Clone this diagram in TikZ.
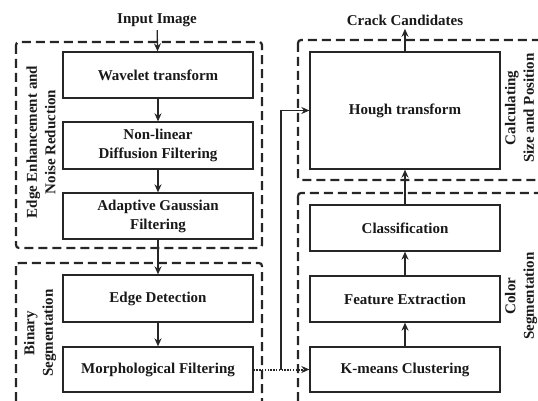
\documentclass[tikz,border=0pt]{standalone}
\usepackage{fontspec}
\setmainfont{Liberation Serif}
\usetikzlibrary{arrows.meta}
\begin{document}
\begin{tikzpicture}[x=1pt,y=-1pt,
  every node/.style={font=\fontsize{15}{19}\selectfont\bfseries, text=black!90},
  procbox/.style={draw=black!85, line width=1.3pt, fill=white, minimum width=190pt, align=center, inner sep=0pt},
  groupbox/.style={draw=black!85, line width=2.2pt, dash pattern=on 9pt off 5pt, rounded corners=3pt},
  flow/.style={draw=black!85, line width=1.3pt, -{Stealth[length=8pt,width=7pt]}},
  dotflow/.style={draw=black!85, line width=2pt, dash pattern=on 1.4pt off 1.4pt, -{Stealth[length=8pt,width=7pt]}},
  grouplabel/.style={rotate=90, align=center, font=\fontsize{15}{18.5}\selectfont\bfseries}]
\useasboundingbox (0,0) rectangle (538,401);
\clip (0,0) rectangle (538,401);

% groups
\draw[groupbox] (16,42) rectangle (262,248);
\draw[groupbox] (16,263) rectangle (262,425);
\draw[groupbox] (298,40) rectangle (570,180);
\draw[groupbox] (298,193) rectangle (570,425);

% process boxes
\node[procbox, minimum height=46pt] (wav) at (158,75) {Wavelet transform};
\node[procbox, minimum height=47pt] (nld) at (158,145.5) {Non-linear\\Diffusion Filtering};
\node[procbox, minimum height=46pt] (agf) at (158,216) {Adaptive Gaussian\\Filtering};
\node[procbox, minimum height=47pt] (ed) at (158,298.5) {Edge Detection};
\node[procbox, minimum height=45pt] (mf) at (158,369.5) {Morphological Filtering};
\node[procbox, minimum height=117pt] (hough) at (405,110.5) {Hough transform};
\node[procbox, minimum height=46pt] (cls) at (405,228) {Classification};
\node[procbox, minimum height=46pt] (fe) at (405,299) {Feature Extraction};
\node[procbox, minimum height=45pt] (km) at (405,369.5) {K-means Clustering};

% input / output texts
\node (in) at (157,20) {Input Image};
\node (out) at (405,20) {Crack Candidates};

% group labels
\node[grouplabel] (l1) at (41,142) {Edge Enhancement and\\Noise Reduction};
\node[grouplabel] (l2) at (40,333) {Binary\\Segmentation};
\node[grouplabel] (l3) at (519.5,108) {Calculating\\Size and Position};
\node[grouplabel] (l4) at (521,296) {Color\\Segmentation};

% connectors
\draw[flow] (in) -- (wav);
\draw[flow] (wav) -- (nld);
\draw[flow] (nld) -- (agf);
\draw[flow] (agf) -- (ed);
\draw[flow] (ed) -- (mf);
\draw[dotflow] (mf) -- (km);
\coordinate (j) at (281,369.5);
\draw[flow] (j) |- (hough.west);
\draw[flow] (km) -- (fe);
\draw[flow] (fe) -- (cls);
\draw[flow] (cls) -- (hough);
\draw[flow] (hough) -- (out);
\end{tikzpicture}
\end{document}
